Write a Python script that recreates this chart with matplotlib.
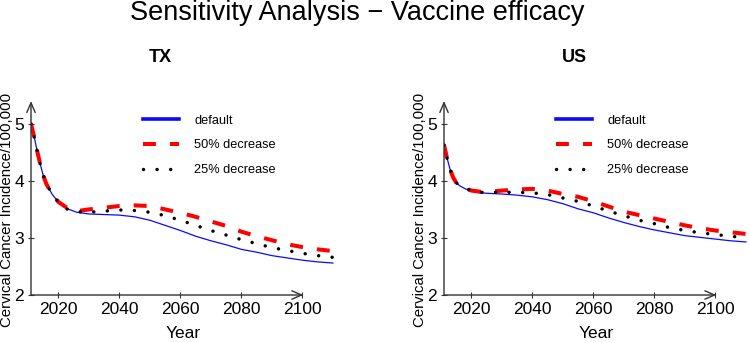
import numpy as np
import matplotlib
matplotlib.use('Agg')
import matplotlib.pyplot as plt
from matplotlib.lines import Line2D

plt.rcParams['font.family'] = ['Liberation Sans', 'DejaVu Sans']

years = [2011, 2012, 2013, 2014, 2015, 2016, 2018, 2020, 2023, 2026, 2030, 2035, 2040,
         2045, 2050, 2055, 2060, 2065, 2070, 2075, 2080, 2085, 2090, 2095, 2100, 2105, 2110]

# TX
tx_default = [5.00, 4.78, 4.53, 4.30, 4.10, 3.95, 3.76, 3.63, 3.51, 3.45, 3.42, 3.41, 3.40,
              3.37, 3.31, 3.22, 3.13, 3.03, 2.95, 2.88, 2.80, 2.75, 2.69, 2.65, 2.61, 2.58, 2.56]
tx_50 = [5.00, 4.78, 4.53, 4.30, 4.10, 3.95, 3.76, 3.63, 3.52, 3.47, 3.50, 3.53, 3.56,
         3.57, 3.56, 3.50, 3.44, 3.37, 3.29, 3.21, 3.11, 3.03, 2.96, 2.89, 2.84, 2.80, 2.77]
tx_25 = [5.00, 4.78, 4.53, 4.30, 4.10, 3.95, 3.76, 3.63, 3.50, 3.46, 3.45, 3.47, 3.49,
         3.48, 3.45, 3.39, 3.31, 3.22, 3.13, 3.05, 2.97, 2.90, 2.83, 2.78, 2.73, 2.69, 2.66]

# US
us_default = [4.63, 4.40, 4.20, 4.06, 3.97, 3.92, 3.86, 3.82, 3.79, 3.78, 3.77, 3.75, 3.72,
              3.67, 3.60, 3.51, 3.44, 3.35, 3.27, 3.20, 3.14, 3.09, 3.04, 3.01, 2.98, 2.95, 2.93]
us_50 = [4.63, 4.40, 4.20, 4.06, 3.97, 3.92, 3.87, 3.83, 3.81, 3.81, 3.83, 3.85, 3.86,
         3.83, 3.77, 3.72, 3.64, 3.55, 3.46, 3.40, 3.34, 3.28, 3.22, 3.17, 3.13, 3.10, 3.07]
us_25 = [4.63, 4.40, 4.20, 4.06, 3.97, 3.92, 3.87, 3.83, 3.80, 3.80, 3.80, 3.80, 3.79,
         3.76, 3.70, 3.64, 3.56, 3.47, 3.39, 3.31, 3.25, 3.18, 3.13, 3.09, 3.06, 3.03, 3.00]

labels = ['default', '50% decrease', '25% decrease']
xticks = [2020, 2040, 2060, 2080, 2100]
yticks = [2, 3, 4, 5]

blue = '#0a0aff'
red = '#ff0000'
axcol = '#333333'

dash_red = (0, (3.2, 3.5))
dot_blk = (0, (0.01, 3.9))

fig = plt.figure(figsize=(7.5, 3.43), dpi=100)

fig.text(357/750, 1 - 13/343, 'Sensitivity Analysis \u2212 Vaccine efficacy',
         ha='center', va='center', fontsize=19.5)


def panel(left, title, tx, d, r50, r25):
    ax = fig.add_axes([left, 48/343, 305/750, 194/343])
    ax.plot(years, d, color=blue, lw=0.9)
    ax.plot(years, r50, color=red, lw=2.9, linestyle=dash_red)
    ax.plot(years, r25, color='black', lw=2.5, linestyle=dot_blk,
            dash_capstyle='round')
    ax.set_xlim(2011, 2111)
    ax.set_ylim(2, 5.4)
    for s in ax.spines.values():
        s.set_visible(False)
    # axes drawn as arrows
    ax.annotate('', xy=(2100.3, 2), xytext=(2011, 2),
                arrowprops=dict(arrowstyle='->,head_length=0.7,head_width=0.3',
                                color=axcol, lw=1, shrinkA=0, shrinkB=0),
                annotation_clip=False)
    ax.annotate('', xy=(2011, 5.4), xytext=(2011, 2),
                arrowprops=dict(arrowstyle='->,head_length=0.7,head_width=0.3',
                                color=axcol, lw=1, shrinkA=0, shrinkB=0),
                annotation_clip=False)
    ax.set_xticks(xticks)
    ax.set_yticks(yticks)
    ax.tick_params(direction='inout', length=4, width=0.8, color=axcol,
                   labelsize=12.5, pad=3)
    ax.set_xlabel('Year', fontsize=12.5)
    ax.xaxis.set_label_coords(0.5, -0.16)
    ax.set_ylabel('Cervical Cancer Incidence/100,000', fontsize=10.8)
    ax.yaxis.set_label_coords(-0.056, 0.44)
    fig.text(tx/750, 1 - 57/343, title, ha='center', va='center',
             fontsize=13, fontweight='bold')

    handles = [Line2D([], [], color=blue, lw=2.6),
               Line2D([], [], color=red, lw=2.9, linestyle=dash_red),
               Line2D([], [], color='black', lw=2.5, linestyle=dot_blk,
                      dash_capstyle='round')]
    ax.legend(handles, labels, loc='upper left', bbox_to_anchor=(0.367, 0.93),
              frameon=False, fontsize=9.2, borderpad=0, borderaxespad=0,
              handlelength=2.8, handletextpad=1.2, labelspacing=1.0)
    return ax


panel(31/750, 'TX', 160, tx_default, tx_50, tx_25)
panel(444/750, 'US', 574, us_default, us_50, us_25)

fig.savefig('out.png', dpi=100)
